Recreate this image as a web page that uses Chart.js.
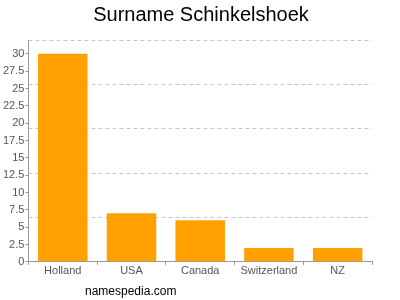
<!DOCTYPE html>
<html>
<head>
<meta charset="utf-8">
<script src="https://cdn.jsdelivr.net/npm/chart.js@4/dist/chart.umd.min.js"></script>
<style>
  html, body { margin: 0; padding: 0; background: #fff; }
  #wrap { position: relative; width: 400px; height: 300px; }
  #credit { position: absolute; left: 85px; top: 284px; font: 12px "Liberation Sans", Arial, sans-serif; color: #000; }
</style>
</head>
<body>
<div id="wrap">
  <canvas id="barchart" width="400" height="300"></canvas>
  <div id="credit">namespedia.com</div>
</div>
<script>
const countries = ['Holland', 'USA', 'Canada', 'Switzerland', 'NZ'];
const counts = [30, 7, 6, 2, 2];
const tickValues = [0, 2.5, 5, 7.5, 10, 12.5, 15, 17.5, 20, 22.5, 25, 27.5, 30];
const gridValues = [6.4, 12.8, 19.2, 25.6, 32];

const ctx = document.getElementById('barchart');

new Chart(ctx, {
  type: 'bar',
  data: {
    labels: countries,
    datasets: [{
      label: 'Surname',
      data: counts,
      backgroundColor: '#ffa000',
      borderWidth: 0,
      categoryPercentage: 0.72,
      barPercentage: 1
    }]
  },
  options: {
    responsive: false,
    animation: false,
    layout: { padding: { left: 2, right: 0, top: 0, bottom: 22 } },
    plugins: {
      legend: { display: false },
      tooltip: { enabled: false },
      title: {
        display: true,
        text: 'Surname Schinkelshoek',
        color: '#000',
        font: { family: '"Liberation Sans", Arial, sans-serif', size: 20, weight: 'normal' },
        padding: { top: 3, bottom: 13 }
      }
    },
    scales: {
      x: {
        grid: { drawOnChartArea: false, drawTicks: true, tickLength: 3, color: '#999' },
        border: { color: '#999' },
        ticks: { color: '#555', font: { family: '"Liberation Sans", Arial, sans-serif', size: 11 }, padding: 0 }
      },
      y: {
        min: 0,
        max: 32,
        afterBuildTicks: axis => { axis.ticks = tickValues.map(v => ({ value: v })); },
        grid: { drawOnChartArea: false, drawTicks: true, tickLength: 3, color: '#999' },
        border: { color: '#999' },
        ticks: {
          color: '#555',
          font: { family: '"Liberation Sans", Arial, sans-serif', size: 11 },
          padding: 1,
          callback: v => String(v)
        }
      },
      y2: {
        position: 'right',
        min: 0,
        max: 32,
        afterBuildTicks: axis => { axis.ticks = gridValues.map(v => ({ value: v })); },
        afterFit: axis => { axis.width = 28; },
        ticks: { display: false },
        grid: { drawTicks: false, color: '#c8c8c8', lineWidth: 1 },
        border: { display: false, dash: [4, 3] }
      }
    }
  }
});
</script>
</body>
</html>
